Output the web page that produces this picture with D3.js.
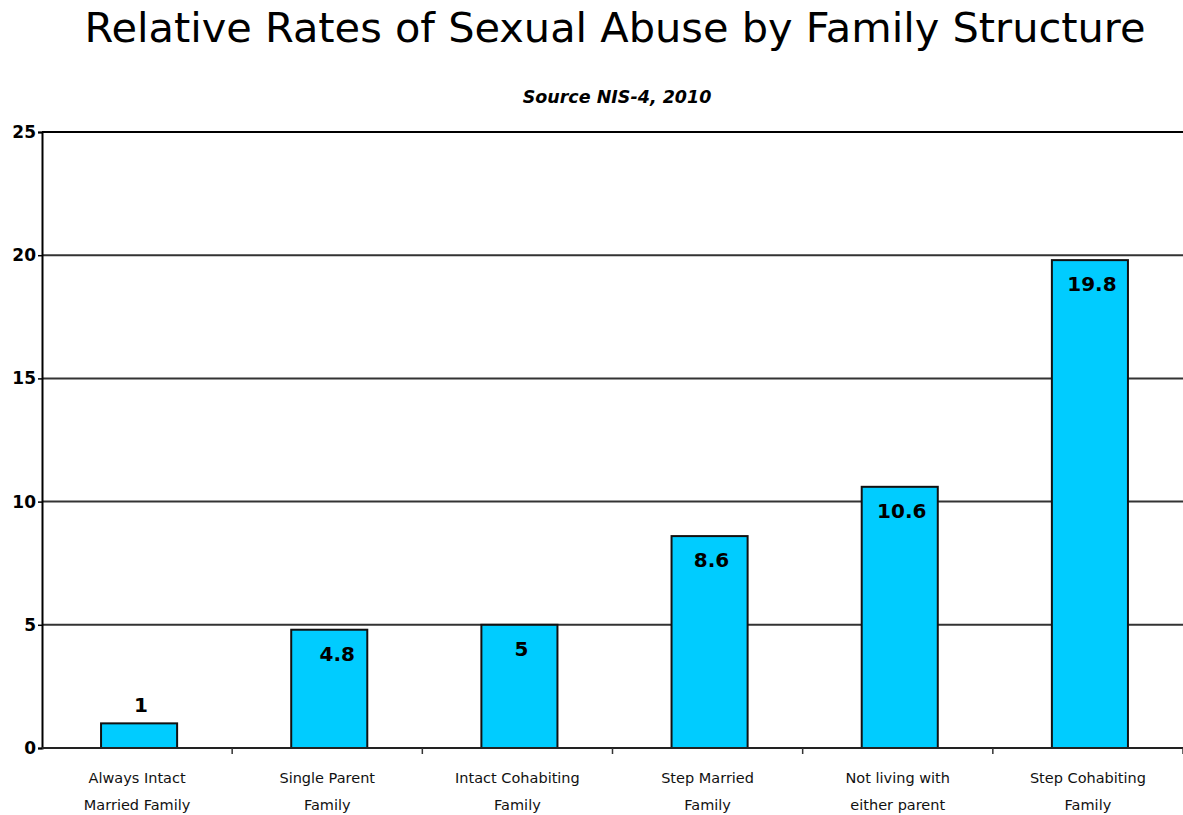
<!DOCTYPE html>
<html>
<head>
<meta charset="utf-8">
<script src="https://cdn.jsdelivr.net/npm/d3@7"></script>
<style>
  body { margin: 0; background: #fff; }
  svg { display: block; }
</style>
</head>
<body>
<svg id="chart_svg" width="1183" height="815"></svg>
<script>
// data
const categories = [
    ['Always Intact', 'Married Family'],
    ['Single Parent', 'Family'],
    ['Intact Cohabiting', 'Family'],
    ['Step Married', 'Family'],
    ['Not living with', 'either parent'],
    ['Step Cohabiting', 'Family']
];
const rates = [1, 4.8, 5, 8.6, 10.6, 19.8];
const yTicks = [0, 5, 10, 15, 20, 25];

const titleText = 'Relative Rates of Sexual Abuse by Family Structure';
const subtitleText = 'Source NIS-4, 2010';

const width = 1183;
const height = 815;
const margin = { top: 132, bottom: 67, left: 42, right: 0 };

const svg = d3.select('#chart_svg');

/**
 * Scales
 */
const xScale = d3.scaleBand()
    .domain(d3.range(categories.length))
    .range([margin.left, width - margin.right])
    .paddingInner(0.6)
    .paddingOuter(0.3);

const yScale = d3.scaleLinear()
    .domain([0, 25])
    .range([height - margin.bottom, margin.top]);

/**
 * Gridlines
 */
svg.append('g')
    .selectAll('line')
    .data(yTicks.filter((d) => d > 0))
    .enter()
    .append('line')
    .attr('x1', margin.left)
    .attr('x2', width)
    .attr('y1', (d) => yScale(d))
    .attr('y2', (d) => yScale(d))
    .attr('stroke', (d) => (d === 25 ? '#000' : '#333'))
    .attr('stroke-width', 2);

/**
 * Bars
 */
svg.append('g')
    .selectAll('rect')
    .data(rates)
    .enter()
    .append('rect')
    .attr('x', (d, i) => xScale(i) + 2)
    .attr('y', (d) => yScale(d))
    .attr('width', xScale.bandwidth())
    .attr('height', (d) => yScale(0) - yScale(d))
    .attr('fill', '#00ccff')
    .attr('stroke', '#111')
    .attr('stroke-width', 2);

/**
 * Y axis
 */
const yAxis = d3.axisLeft(yScale).tickValues(yTicks).tickSize(4).tickPadding(2);
const gy = svg.append('g')
    .attr('transform', 'translate(' + margin.left + ',0)')
    .call(yAxis);
gy.select('.domain').attr('stroke', '#000').attr('stroke-width', 2);
gy.selectAll('.tick line').attr('stroke', '#000').attr('stroke-width', 1.5);
gy.selectAll('.tick text')
    .attr('font-family', 'DejaVu Sans, Verdana, sans-serif')
    .attr('font-weight', 'bold')
    .attr('font-size', 17)
    .attr('fill', '#000');

/**
 * X axis with ticks at band boundaries
 */
const boundaryScale = d3.scaleLinear()
    .domain([0, categories.length])
    .range([margin.left, width - margin.right]);

svg.append('line')
    .attr('x1', margin.left)
    .attr('x2', width)
    .attr('y1', yScale(0))
    .attr('y2', yScale(0))
    .attr('stroke', '#222')
    .attr('stroke-width', 2);

svg.append('g')
    .selectAll('line')
    .data(d3.range(1, categories.length + 1))
    .enter()
    .append('line')
    .attr('x1', (d) => boundaryScale(d))
    .attr('x2', (d) => boundaryScale(d))
    .attr('y1', yScale(0))
    .attr('y2', yScale(0) + 6)
    .attr('stroke', '#333')
    .attr('stroke-width', 1.5);

const xLabels = svg.append('g')
    .selectAll('text')
    .data(categories)
    .enter()
    .append('text')
    .attr('text-anchor', 'middle')
    .attr('font-family', 'DejaVu Sans, Verdana, sans-serif')
    .attr('font-size', 14.5)
    .attr('fill', '#111');

xLabels.each(function (d, i) {
    const cx = xScale(i) + xScale.bandwidth() / 2;
    d3.select(this).selectAll('tspan')
        .data(d)
        .enter()
        .append('tspan')
        .attr('x', cx)
        .attr('y', (t, j) => 783 + j * 27)
        .text((t) => t);
});

/**
 * Value labels
 */
svg.append('g')
    .selectAll('text')
    .data(rates)
    .enter()
    .append('text')
    .attr('x', (d, i) => xScale(i) + xScale.bandwidth() / 2 + (i === 1 ? 10 : 4))
    .attr('y', (d) => (d < 2 ? yScale(d) - 11 : yScale(d) + 31))
    .attr('text-anchor', 'middle')
    .attr('font-family', 'DejaVu Sans, Verdana, sans-serif')
    .attr('font-weight', 'bold')
    .attr('font-size', 20)
    .attr('fill', '#000')
    .text((d) => d);

/**
 * Title and subtitle
 */
svg.append('text')
    .attr('x', 615)
    .attr('y', 42)
    .attr('text-anchor', 'middle')
    .attr('font-family', 'DejaVu Sans, Verdana, sans-serif')
    .attr('font-size', 41.5)
    .attr('fill', '#000')
    .text(titleText);

svg.append('text')
    .attr('x', 617)
    .attr('y', 103)
    .attr('text-anchor', 'middle')
    .attr('font-family', 'DejaVu Sans, Verdana, sans-serif')
    .attr('font-weight', 'bold')
    .attr('font-style', 'italic')
    .attr('font-size', 17.5)
    .attr('fill', '#000')
    .text(subtitleText);
</script>
</body>
</html>
